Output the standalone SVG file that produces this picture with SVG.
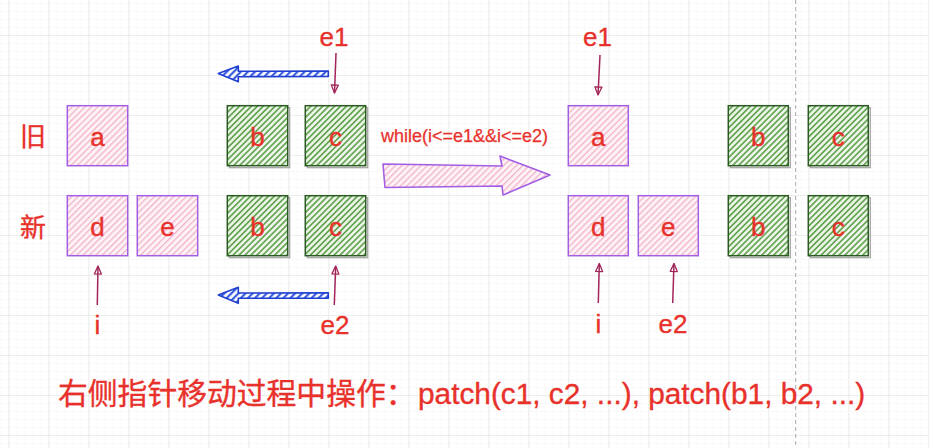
<svg xmlns="http://www.w3.org/2000/svg" width="929" height="448" viewBox="0 0 929 448">
<style>
text{font-family:"Liberation Sans",Arial,Helvetica,"Noto Sans CJK SC",sans-serif;fill:#e8312b;stroke:#e8312b;stroke-width:0.35}
.lbl{font-size:26px;text-anchor:middle}
.cjk{font-family:"Liberation Sans","Noto Sans CJK SC",sans-serif;font-size:26px}
.pk{fill:url(#pinkHatch);stroke:#a45ee5;stroke-width:1.5}
.gr{fill:url(#greenHatch);stroke:#2b5a22;stroke-width:1.5}
.sh{fill:none;stroke:#8a8a8a;stroke-width:1.2;opacity:0.8}
.ptr{fill:none;stroke:#a3245a;stroke-width:1.5;marker-end:url(#tri)}
.blue{fill:url(#blueHatch);stroke:#1f3fd0;stroke-width:1.6;stroke-linejoin:round}
.big{fill:url(#pinkHatch);stroke:#a45ee5;stroke-width:1.6;stroke-linejoin:round}
</style>
<defs>
<pattern id="minor" patternUnits="userSpaceOnUse" x="0.3" y="3" width="8" height="8">
<path d="M0,0V8M0,0H8" stroke="#f4f4f4" stroke-width="1" fill="none"/>
</pattern>
<pattern id="major" patternUnits="userSpaceOnUse" x="8.3" y="-5" width="40" height="40">
<path d="M0,0V40M0,0H40" stroke="#e2e2e2" stroke-width="1.2" fill="none"/>
</pattern>
<pattern id="pinkHatch" patternUnits="userSpaceOnUse" width="4.5" height="4.5" patternTransform="rotate(45)">
<rect width="4.5" height="4.5" fill="#fdf3f6"/>
<rect width="1.3" height="4.5" fill="#f3b3c8"/>
</pattern>
<pattern id="greenHatch" patternUnits="userSpaceOnUse" width="4.2" height="4.2" patternTransform="rotate(45)">
<rect width="4.2" height="4.2" fill="#eef6ea"/>
<rect width="1.7" height="4.2" fill="#65a554"/>
</pattern>
<pattern id="blueHatch" patternUnits="userSpaceOnUse" width="5" height="5" patternTransform="rotate(45)">
<rect width="5" height="5" fill="#ffffff"/>
<rect width="2.2" height="5" fill="#3b5ee0"/>
</pattern>
<marker id="tri" markerUnits="userSpaceOnUse" markerWidth="12" markerHeight="12" refX="8" refY="3.5" orient="auto" overflow="visible">
<path d="M0,0 L8,3.5 L0,7 Z" fill="none" stroke="#a3245a" stroke-width="1.3" stroke-linejoin="round"/>
</marker>
</defs>

<rect width="929" height="448" fill="#ffffff"/>
<rect width="929" height="448" fill="url(#minor)"/>
<rect width="929" height="448" fill="url(#major)"/>
<line x1="795.7" y1="0" x2="795.7" y2="448" stroke="#a8a8a8" stroke-width="1" stroke-dasharray="4 3"/>

<g id="row-labels">
<text class="cjk" x="20" y="146">旧</text>
<text class="cjk" x="20" y="237">新</text>
</g>

<g id="old-a"><rect class="pk" x="67.3" y="105.7" width="60.4" height="60"/><text class="lbl" x="97.5" y="146">a</text></g>
<g id="old-b"><rect class="sh" x="229.3" y="107.7" width="60.4" height="60"/><rect class="gr" x="227.3" y="105.7" width="60.4" height="60"/><text class="lbl" x="257.5" y="146">b</text></g>
<g id="old-c"><rect class="sh" x="307.3" y="107.7" width="60.4" height="60"/><rect class="gr" x="305.3" y="105.7" width="60.4" height="60"/><text class="lbl" x="335.5" y="146">c</text></g>

<g id="new-d"><rect class="pk" x="67.3" y="195.7" width="60.4" height="60"/><text class="lbl" x="97.5" y="236">d</text></g>
<g id="new-e"><rect class="pk" x="137.3" y="195.7" width="60.4" height="60"/><text class="lbl" x="167.5" y="236">e</text></g>
<g id="new-b"><rect class="sh" x="229.3" y="197.7" width="60.4" height="60"/><rect class="gr" x="227.3" y="195.7" width="60.4" height="60"/><text class="lbl" x="257.5" y="236">b</text></g>
<g id="new-c"><rect class="sh" x="307.3" y="197.7" width="60.4" height="60"/><rect class="gr" x="305.3" y="195.7" width="60.4" height="60"/><text class="lbl" x="335.5" y="236">c</text></g>

<g id="r-old-a"><rect class="pk" x="568.3" y="105.7" width="60" height="60"/><text class="lbl" x="598.3" y="146">a</text></g>
<g id="r-old-b"><rect class="sh" x="730.3" y="107.7" width="60" height="60"/><rect class="gr" x="728.3" y="105.7" width="60" height="60"/><text class="lbl" x="758.3" y="146">b</text></g>
<g id="r-old-c"><rect class="sh" x="810.3" y="107.7" width="60" height="60"/><rect class="gr" x="808.3" y="105.7" width="60" height="60"/><text class="lbl" x="838.3" y="146">c</text></g>

<g id="r-new-d"><rect class="pk" x="568.3" y="195.7" width="60" height="60"/><text class="lbl" x="598.3" y="236">d</text></g>
<g id="r-new-e"><rect class="pk" x="638.3" y="195.7" width="60" height="60"/><text class="lbl" x="668.3" y="236">e</text></g>
<g id="r-new-b"><rect class="sh" x="730.3" y="197.7" width="60" height="60"/><rect class="gr" x="728.3" y="195.7" width="60" height="60"/><text class="lbl" x="758.3" y="236">b</text></g>
<g id="r-new-c"><rect class="sh" x="810.3" y="197.7" width="60" height="60"/><rect class="gr" x="808.3" y="195.7" width="60" height="60"/><text class="lbl" x="838.3" y="236">c</text></g>

<g id="pointer-labels">
<text class="lbl" x="334" y="46">e1</text>
<text class="lbl" x="97.5" y="334">i</text>
<text class="lbl" x="335" y="334">e2</text>
<text class="lbl" x="597.5" y="46">e1</text>
<text class="lbl" x="598.5" y="333">i</text>
<text class="lbl" x="673" y="333">e2</text>
</g>

<g id="connectors">
<path class="ptr" d="M336,53 L334.5,93"/>
<path class="ptr" d="M97.3,305 L98,266"/>
<path class="ptr" d="M334.3,305 L335.7,266"/>
<path class="ptr" d="M600,55 L598,95"/>
<path class="ptr" d="M598.3,303 L599.3,263.5"/>
<path class="ptr" d="M672.7,303 L674,263.5"/>
<path class="blue" d="M328.3,71 L238.3,71.3 L238.3,66 L218.3,73.5 L238.3,81.7 L238.3,76.7 L328.3,76.5 Z"/>
<path class="blue" d="M328.3,292.7 L238.3,293 L238.3,287.3 L218.3,295 L238.3,303.3 L238.3,298.3 L328.3,298.3 Z"/>
<path class="big" d="M383,164 L502,166 L500,156 L550,175 L503,195 L502,186 L385,187.5 Z"/>
</g>

<g id="while-label">
<text x="381" y="142" style="font-size:18px;stroke-width:0.25">while(i&lt;=e1&amp;&amp;i&lt;=e2)</text>
</g>

<g id="caption">
<text x="58" y="404" style="font-size:29.8px;font-family:'Liberation Sans','Noto Sans CJK SC',sans-serif">右侧指针移动过程中操作：<tspan x="418">patch(c1, c2, ...), patch(b1, b2, ...)</tspan></text>
</g>
</svg>
